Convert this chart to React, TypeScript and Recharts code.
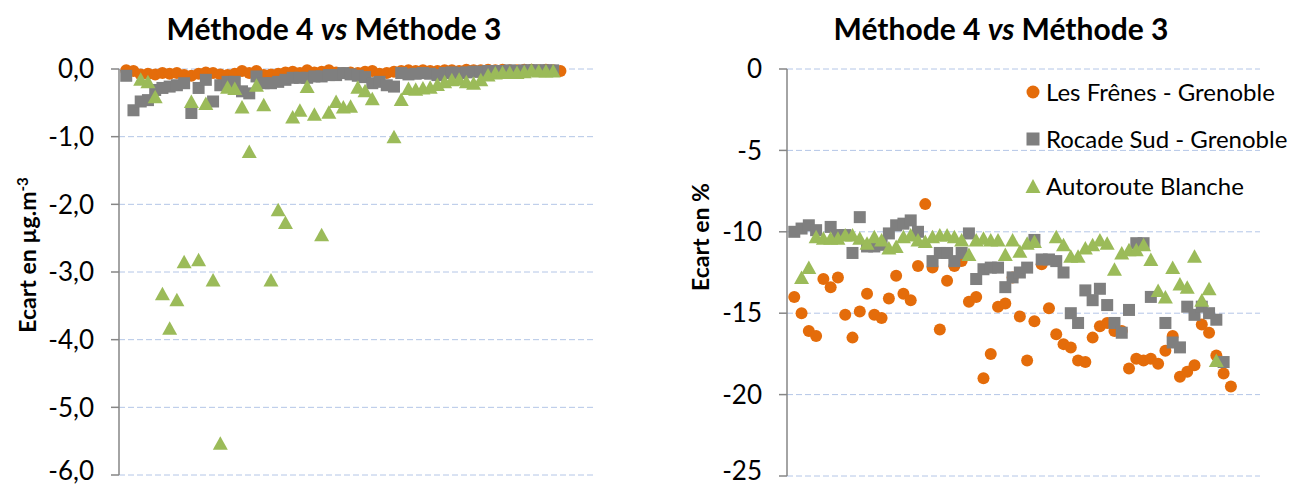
import React from "react";
import { ScatterChart, Scatter, XAxis, YAxis, CartesianGrid } from "recharts";

// sample index on the x axis (1..61), y values
const leftFrenes = [
  -0.02, -0.03, -0.08, -0.07, -0.08, -0.06, -0.07, -0.06, -0.09, -0.1,
  -0.07, -0.05, -0.06, -0.08, -0.09, -0.07, -0.03, -0.06, -0.03, -0.09,
  -0.08, -0.07, -0.05, -0.04, -0.06, -0.02, -0.05, -0.04, -0.02, -0.05,
  -0.06, -0.05, -0.06, -0.04, -0.03, -0.07, -0.06, -0.04, -0.03, -0.02,
  -0.03, -0.02, -0.03, -0.03, -0.02, -0.02, -0.03, -0.01, -0.02, -0.02,
  -0.01, -0.02, -0.01, -0.02, -0.02, -0.01, -0.01, -0.02, -0.01, -0.02, -0.03,
];
const leftRocade = [
  -0.1, -0.61, -0.48, -0.46, -0.31, -0.28, -0.26, -0.24, -0.21, -0.65,
  -0.28, -0.16, -0.48, -0.24, -0.19, -0.19, -0.33, -0.36, -0.11, -0.21,
  -0.21, -0.19, -0.16, -0.13, -0.13, -0.13, -0.11, -0.11, -0.09, -0.09,
  -0.06, -0.08, -0.1, -0.12, -0.21, -0.19, -0.24, -0.26, -0.06, -0.08,
  -0.07, -0.06, -0.07, -0.09, -0.06, -0.05, -0.06, -0.05, -0.04, -0.04,
  -0.03, -0.03, -0.03, -0.02, -0.03, -0.02, -0.02, -0.02, -0.02, -0.02, null,
];
const leftBlanche = [
  null, null, -0.15, -0.19, -0.41, -3.32, -3.83, -3.41, -2.85, -0.48,
  -2.82, -0.51, -3.12, -5.53, -0.27, -0.29, -0.56, -1.22, -0.24, -0.53,
  -3.12, -2.08, -2.27, -0.71, -0.61, -0.26, -0.67, -2.45, -0.64, -0.48,
  -0.56, -0.55, -0.27, -0.32, -0.44, null, null, -1.0, -0.45, -0.29,
  -0.3, -0.28, -0.27, -0.23, -0.19, -0.16, -0.15, -0.19, -0.21, -0.16,
  -0.09, -0.06, -0.05, -0.05, -0.05, -0.04, -0.02, -0.03, -0.03, -0.03, null,
];

const rightFrenes = [
  -14.0, -15.0, -16.1, -16.4, -12.9, -13.4, -12.8, -15.1, -16.5, -14.9,
  -13.8, -15.1, -15.3, -14.1, -12.7, -13.8, -14.2, -12.1, -8.3, -12.2,
  -16.0, -13.0, -12.1, -11.8, -14.3, -14.0, -19.0, -17.5, -14.6, -14.4,
  -12.8, -15.2, -17.9, -15.5, -12.0, -14.7, -16.3, -16.9, -17.1, -17.9,
  -18.0, -16.5, -15.8, -15.6, -16.1, -16.1, -18.4, -17.8, -17.9, -17.8,
  -18.1, -17.3, -16.4, -18.9, -18.6, -18.2, -15.7, -16.2, -17.6, -18.7, -19.5,
];
const rightRocade = [
  -10.0, -9.8, -9.6, -9.9, null, -9.7, -10.2, -10.2, -11.3, -9.1,
  -10.9, -10.9, -10.8, -10.1, -9.6, -9.5, -9.3, -10.0, null, -11.8,
  -11.3, -11.3, -11.8, -11.3, -10.1, -12.9, -12.3, -12.2, -12.2, -13.4,
  -12.8, -12.5, -12.2, -10.5, -11.7, -11.7, -11.8, -12.5, -15.0, -15.6,
  -13.6, -14.2, -13.5, -14.5, -15.6, -16.2, -14.8, -10.7, -10.7, -14.0,
  null, -15.6, -16.8, -17.1, -14.6, -15.1, -14.6, -15.0, -15.4, -18.0, null,
];
const rightBlanche = [
  null, -12.8, -12.2, -10.3, -10.4, -10.4, -10.4, -10.2, -10.2, -10.4,
  -10.7, -10.3, -10.5, -11.0, -10.9, -10.3, -10.2, -10.5, -10.6, -10.3,
  -10.2, -10.2, -10.3, -10.5, -11.4, -10.5, -10.4, -10.5, -10.5, -11.4,
  -10.5, -11.2, -10.7, -10.6, null, null, -10.3, -10.8, -11.5, -11.5,
  -11.0, -10.8, -10.5, -10.7, -12.3, -11.3, -11.1, -11.1, -10.8, -11.7,
  -13.6, -14.0, -12.2, -13.2, -13.4, -11.5, -14.2, -13.5, -17.9, null, null,
];

const leftTicks = [0, -1, -2, -3, -4, -5, -6];
const rightTicks = [0, -5, -10, -15, -20, -25];

const seriesNames = ["Les Frênes - Grenoble", "Rocade Sud - Grenoble", "Autoroute Blanche"];

const ORANGE = "#E46C0A";
const GREY = "#7F7F7F";
const GREEN = "#9BBB59";
const GRID = "#B4C6E7";
const AXIS = "#868686";
const FONT = "Lato, 'Open Sans', sans-serif";

const toPoints = (vals: (number | null)[]) =>
  vals
    .map((y, i) => (y === null ? null : { x: i + 1, y }))
    .filter((p) => p !== null) as { x: number; y: number }[];

const CircleMark = (p: any) => <circle cx={p.cx} cy={p.cy} r={6} fill={ORANGE} />;
const SquareMark = (p: any) => <rect x={p.cx - 6} y={p.cy - 6} width={12} height={12} fill={GREY} />;
const TriMark = (p: any) => (
  <polygon
    points={`${p.cx},${p.cy - 7} ${p.cx + 7.5},${p.cy + 6.5} ${p.cx - 7.5},${p.cy + 6.5}`}
    fill={GREEN}
  />
);

const Title = ({ cx }: { cx: number }) => (
  <div
    style={{
      position: "absolute",
      left: cx,
      top: 28,
      transform: "translate(-50%, -50%)",
      fontFamily: FONT,
      fontWeight: 700,
      fontSize: 30,
      whiteSpace: "nowrap",
      color: "#000",
    }}
  >
    Méthode 4 <i>vs</i> Méthode 3
  </div>
);

const AxisTitle = ({ cx, cy, children }: { cx: number; cy: number; children: React.ReactNode }) => (
  <div
    style={{
      position: "absolute",
      left: cx,
      top: cy,
      transform: "translate(-50%, -50%) rotate(-90deg)",
      fontFamily: FONT,
      fontWeight: 700,
      fontSize: 23,
      whiteSpace: "nowrap",
      color: "#000",
    }}
  >
    {children}
  </div>
);

const LegendBox = () => {
  const marks = [
    <circle cx={8} cy={8} r={6.5} fill={ORANGE} />,
    <rect x={1.5} y={1.5} width={13} height={13} fill={GREY} />,
    <polygon points="8,1 15.5,15 0.5,15" fill={GREEN} />,
  ];
  return (
    <div
      style={{
        position: "absolute",
        left: 1025,
        top: 68,
        fontFamily: FONT,
        fontSize: 24,
        color: "#000",
      }}
    >
      {seriesNames.map((n, i) => (
        <div key={n} style={{ display: "flex", alignItems: "center", height: 47 }}>
          <svg width={16} height={16} style={{ marginRight: 5 }}>
            {marks[i]}
          </svg>
          <span style={{ whiteSpace: "nowrap" }}>{n}</span>
        </div>
      ))}
    </div>
  );
};

const tickStyle = { fill: "#000", fontSize: 26, fontFamily: FONT };
const fmtComma = (v: number) => v.toFixed(1).replace(".", ",");

export default function App() {
  return (
    <div style={{ position: "fixed", left: 0, top: 0, width: 1295, height: 486, background: "#fff" }}>
      <div style={{ position: "absolute", left: 0, top: 0 }}>
        <ScatterChart width={640} height={486} margin={{ top: 69, right: 47, bottom: 11, left: 0 }}>
          <CartesianGrid horizontal vertical={false} stroke={GRID} strokeDasharray="6 3" />
          <XAxis type="number" dataKey="x" domain={[0, 65.5]} hide />
          <YAxis
            type="number"
            dataKey="y"
            domain={[-6, 0]}
            ticks={leftTicks}
            width={119}
            tickFormatter={fmtComma}
            tick={tickStyle}
            axisLine={{ stroke: AXIS, strokeWidth: 1.5 }}
            tickLine={{ stroke: AXIS, strokeWidth: 1.5 }}
            tickSize={8}
            tickMargin={17}
          />
          <Scatter name={seriesNames[0]} data={toPoints(leftFrenes)} shape={CircleMark} isAnimationActive={false} />
          <Scatter name={seriesNames[1]} data={toPoints(leftRocade)} shape={SquareMark} isAnimationActive={false} />
          <Scatter name={seriesNames[2]} data={toPoints(leftBlanche)} shape={TriMark} isAnimationActive={false} />
        </ScatterChart>
      </div>

      <div style={{ position: "absolute", left: 640, top: 0 }}>
        <ScatterChart width={655} height={486} margin={{ top: 69, right: 35, bottom: 10, left: 0 }}>
          <CartesianGrid horizontal vertical={false} stroke={GRID} strokeDasharray="6 3" />
          <XAxis type="number" dataKey="x" domain={[0, 65]} hide />
          <YAxis
            type="number"
            dataKey="y"
            domain={[-25, 0]}
            ticks={rightTicks}
            width={147}
            tick={tickStyle}
            axisLine={{ stroke: AXIS, strokeWidth: 1.5 }}
            tickLine={{ stroke: AXIS, strokeWidth: 1.5 }}
            tickSize={8}
            tickMargin={17}
          />
          <Scatter name={seriesNames[0]} data={toPoints(rightFrenes)} shape={CircleMark} isAnimationActive={false} />
          <Scatter name={seriesNames[1]} data={toPoints(rightRocade)} shape={SquareMark} isAnimationActive={false} />
          <Scatter name={seriesNames[2]} data={toPoints(rightBlanche)} shape={TriMark} isAnimationActive={false} />
        </ScatterChart>
      </div>

      <Title cx={334} />
      <Title cx={1001} />
      <AxisTitle cx={27} cy={255}>
        Ecart en µg.m<sup style={{ fontSize: 15 }}>-3</sup>
      </AxisTitle>
      <AxisTitle cx={700} cy={237}>Ecart en %</AxisTitle>
      <LegendBox />
    </div>
  );
}
